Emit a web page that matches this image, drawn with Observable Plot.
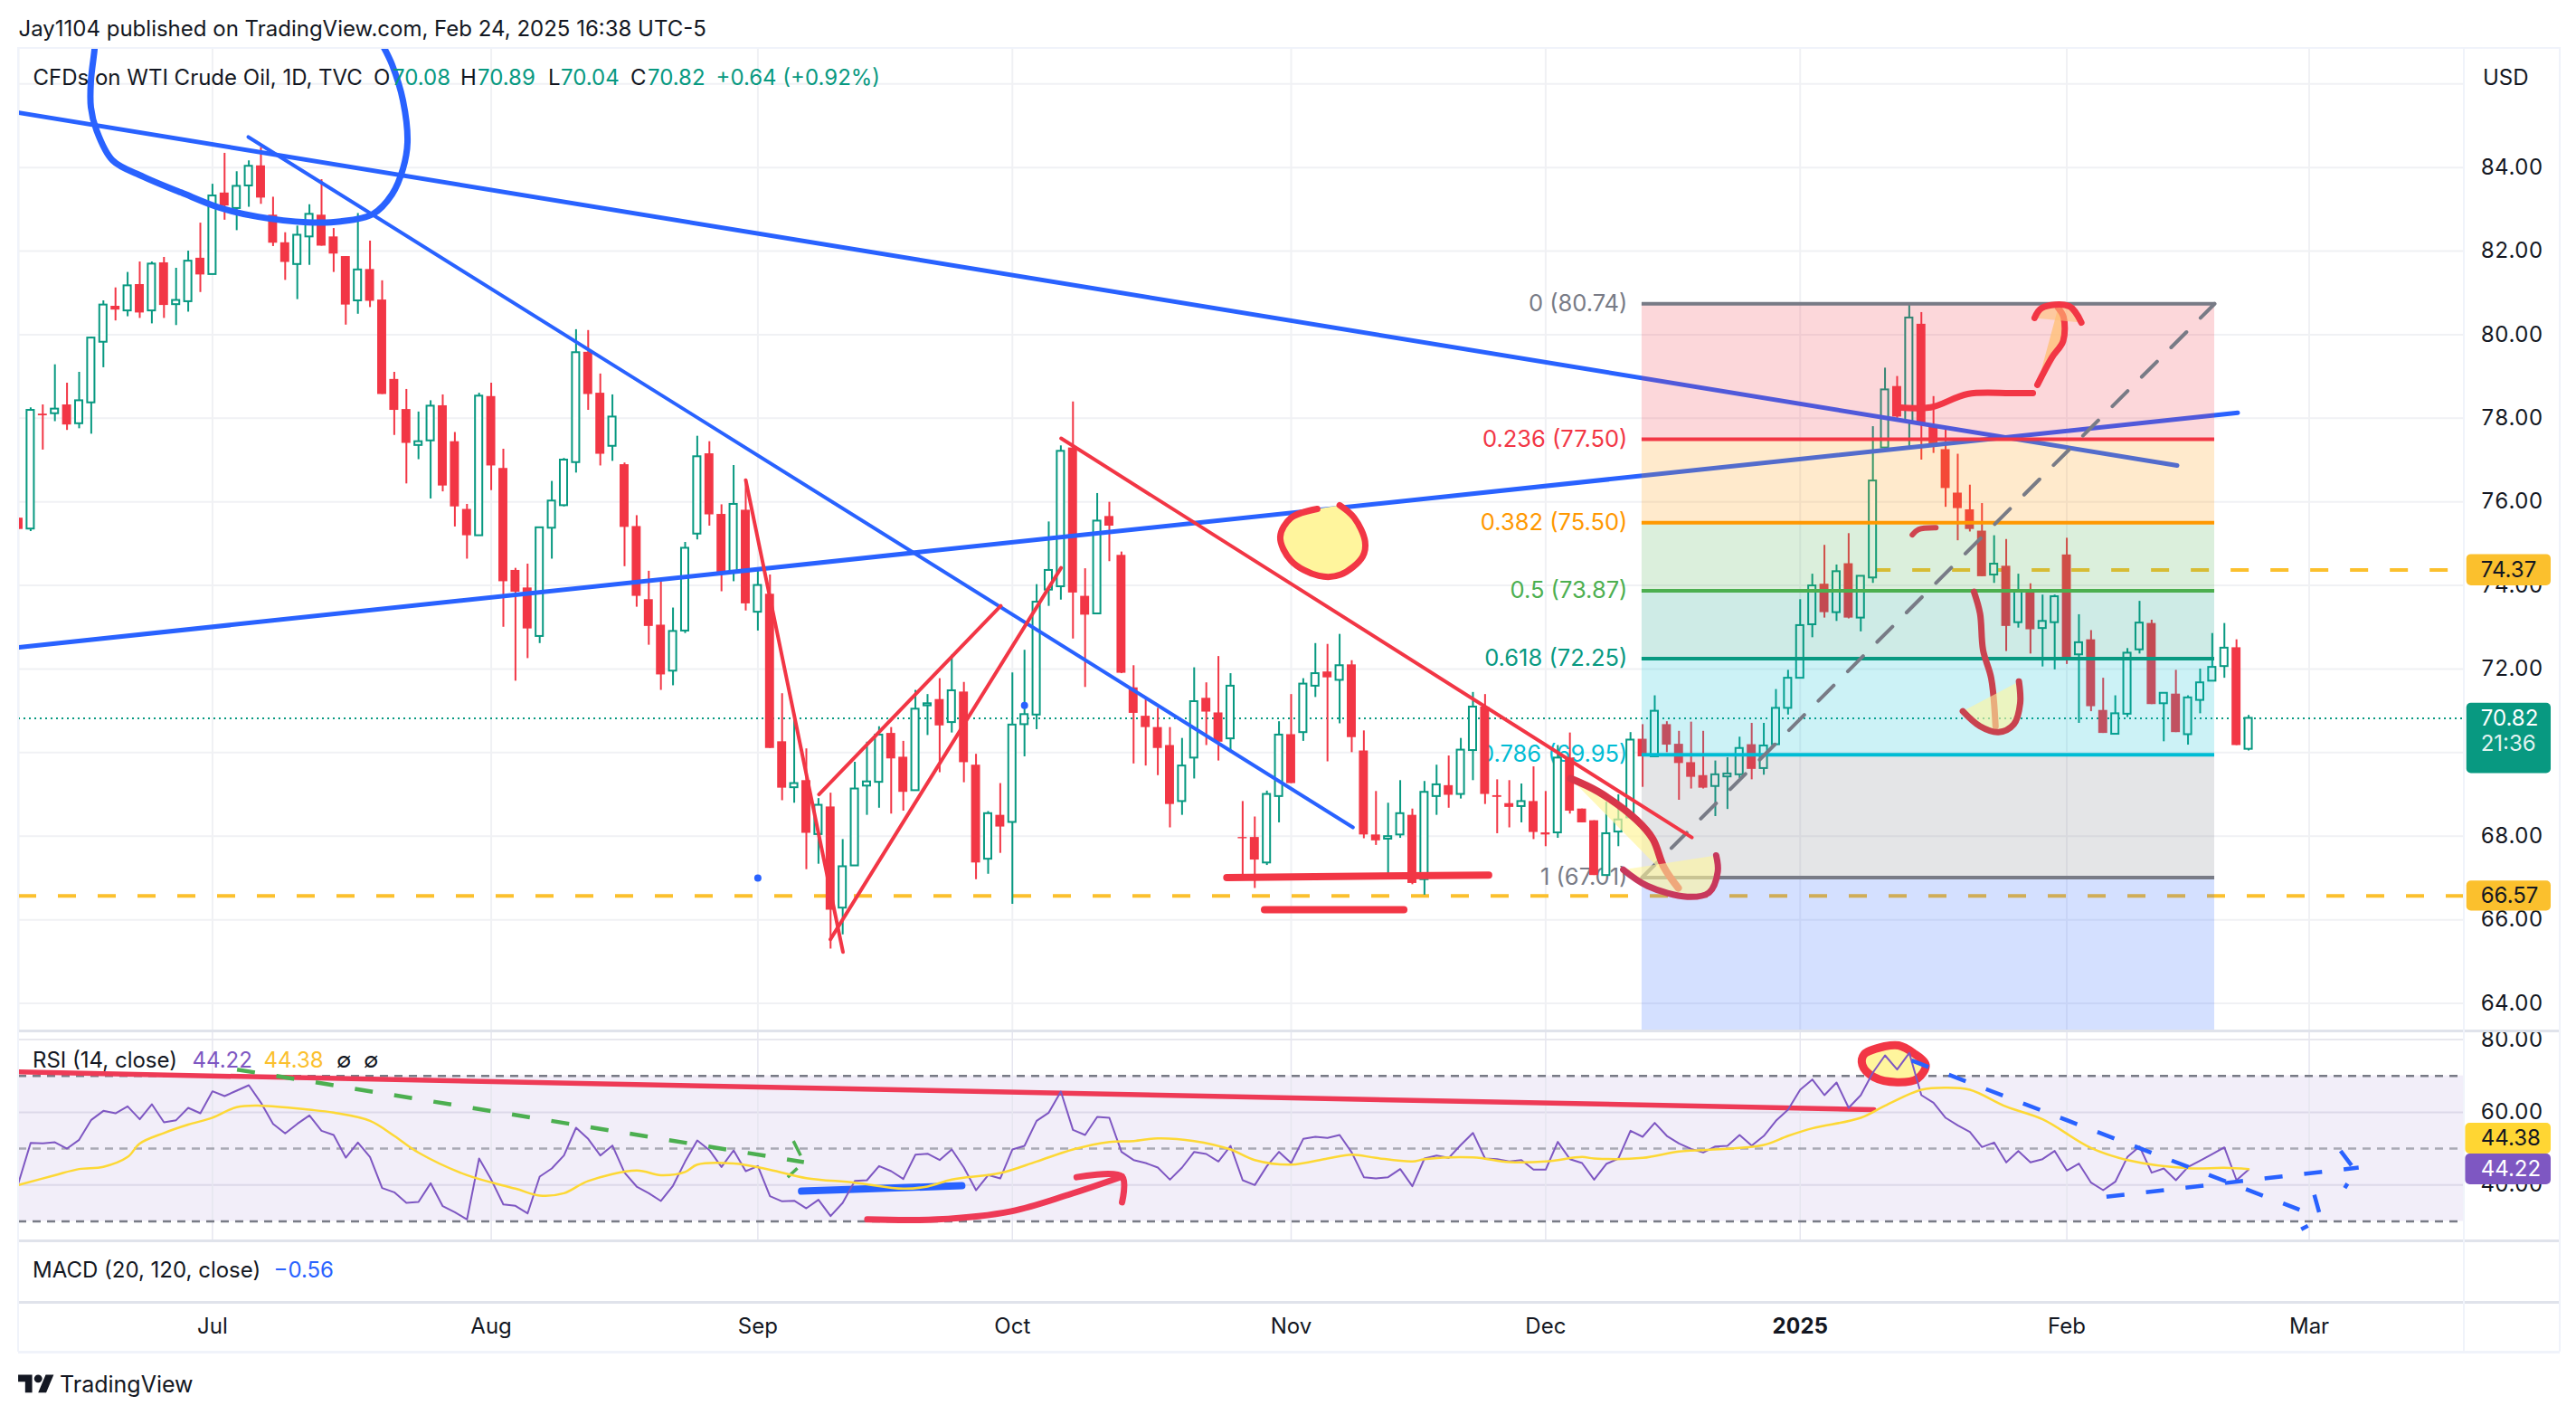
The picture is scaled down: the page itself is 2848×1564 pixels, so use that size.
<!DOCTYPE html>
<html><head><meta charset="utf-8">
<script src="https://cdn.jsdelivr.net/npm/d3@7"></script>
<script src="https://cdn.jsdelivr.net/npm/@observablehq/plot@0.6"></script>
<style>
html,body{margin:0;padding:0;background:#fff}
#root{position:relative;width:2848px;height:1564px;overflow:hidden;font-family:Inter,sans-serif;color:#131722}
#root svg{position:absolute;left:0;overflow:visible}
.t{position:absolute;white-space:pre;line-height:1;transform:translateY(-50%)}
.h{position:absolute;background:#e0e3eb}
</style></head><body><div id="root"></div>
<script>
// ---------- chart data ----------
const candleDirection = ["rgrgrgggrg","rgrggrgrgg","rrrggrrrgr","rrrggrrrgr","rrrggggrrg","rrrrgggrrg","rgrrgrgrgg","ggrrggrgrr","grgggggrrg","rrrrrrggrr","grrggrggrg","rrrggrggrg","grrrgrrgrr","rgggrgrrrr","gggrgggggr","grgggrgrrr","rrrgrgrggr","grrgggrgrg","gggrg"].join("");
const bodyTop = [
75.61,78.19,78.10,78.22,78.32,78.42,79.92,80.71,80.68,81.17,
81.20,81.69,81.72,80.82,81.76,81.83,83.32,83.39,83.55,84.03,
84.04,82.86,82.20,82.38,82.88,82.86,82.34,81.87,81.55,81.56,
80.83,78.93,78.21,77.44,78.29,78.30,77.44,75.82,78.53,78.52,
76.80,74.36,73.94,75.38,76.02,77.00,79.57,79.58,78.60,78.03,
76.89,75.41,73.66,73.05,72.90,74.89,77.08,77.15,75.70,75.94,
75.80,74.00,73.79,70.26,69.26,69.33,68.74,68.70,67.27,69.13,
69.30,70.42,70.46,69.89,71.04,71.17,71.27,71.48,71.45,69.70,
68.54,68.50,70.66,70.91,73.60,74.36,77.21,77.29,73.74,75.54,
75.65,74.72,71.55,70.87,70.60,70.17,69.68,71.22,71.30,70.95,
71.59,67.97,67.97,69.00,70.42,70.43,71.64,71.89,71.93,72.08,
72.10,70.04,68.03,67.99,68.54,68.50,69.05,69.23,69.21,70.06,
71.09,71.09,68.97,68.78,68.83,68.83,68.08,69.87,69.87,68.65,
68.37,68.06,68.39,70.30,70.32,70.99,70.67,70.20,69.76,69.45,
69.47,69.49,70.10,70.19,70.16,71.06,71.78,73.04,73.99,74.03,
74.33,74.52,74.22,76.50,78.68,78.76,80.40,80.25,77.83,77.25,
76.21,75.81,75.30,74.51,74.46,73.86,73.90,73.14,73.73,74.73,
72.63,72.70,71.01,70.93,72.38,73.10,73.09,71.42,71.40,71.31,
71.67,72.04,72.50,72.51,70.82];
const bodyBottom = [
75.34,75.35,78.06,78.11,77.84,77.87,78.37,79.82,80.59,80.57,
80.52,80.57,80.70,80.72,80.79,81.43,81.44,83.08,83.02,83.56,
83.27,82.19,81.73,81.68,82.34,82.12,81.93,80.71,80.81,80.80,
78.57,78.19,77.40,77.35,77.46,76.38,75.88,75.19,75.19,76.86,
74.09,73.84,72.96,72.78,75.37,75.91,76.94,78.57,77.14,77.33,
75.39,73.74,73.02,71.86,71.95,72.91,75.23,75.69,74.28,74.34,
73.56,73.36,70.10,69.15,69.16,68.07,68.04,66.23,66.28,67.29,
69.20,69.29,69.85,69.05,69.09,71.12,70.64,70.72,69.76,67.36,
67.45,68.22,68.33,70.67,70.90,73.89,73.97,73.82,73.29,73.32,
75.42,71.90,70.94,70.60,70.10,68.76,68.83,69.87,70.97,70.25,
70.33,67.94,67.43,67.36,68.95,69.26,70.48,71.59,71.79,71.73,
70.36,68.03,67.89,67.93,68.03,66.87,66.96,68.95,68.98,69.00,
70.05,69.00,68.93,68.69,68.71,68.09,68.03,68.08,68.60,68.32,
67.06,67.06,68.10,68.44,69.90,69.90,70.18,69.74,69.41,69.15,
69.19,69.42,69.47,69.60,69.62,70.19,71.06,71.78,73.06,73.35,
73.35,73.22,73.22,74.18,77.29,78.03,77.91,77.83,77.33,76.32,
75.84,75.34,74.21,74.25,73.02,73.11,72.94,72.97,73.11,72.23,
72.34,71.10,70.46,70.44,70.92,72.46,71.15,71.17,70.48,70.43,
71.25,71.71,72.06,70.17,70.08];
const wickHigh = [
75.61,78.25,78.32,79.28,78.84,79.10,79.94,80.81,81.12,81.49,
81.74,81.74,81.85,81.59,82.00,82.67,83.60,84.34,83.90,84.16,
84.48,83.29,82.44,82.60,83.11,83.71,82.54,81.87,82.90,82.24,
81.29,79.10,78.69,78.15,78.42,78.56,77.66,75.94,78.60,78.84,
77.26,74.41,74.51,75.38,76.49,77.04,80.12,80.10,79.06,78.56,
76.93,75.67,74.34,74.10,73.46,75.03,77.57,77.44,75.93,76.87,
76.54,74.37,74.25,71.41,70.80,70.09,68.90,69.03,67.92,69.77,
70.25,70.62,70.60,70.27,71.49,71.39,71.77,72.33,71.68,69.96,
68.59,69.26,71.91,72.45,74.02,75.52,77.34,78.39,74.40,76.20,
75.99,74.80,72.08,71.28,71.06,70.60,70.34,72.03,71.67,72.30,
71.89,68.83,68.46,69.08,70.74,71.39,71.77,72.61,72.59,72.83,
72.20,70.52,69.07,68.79,69.33,68.65,69.31,69.70,69.92,70.34,
71.44,71.39,69.35,69.33,69.25,69.66,69.07,70.17,70.47,68.65,
68.37,68.81,68.99,70.48,70.67,71.36,70.74,70.51,70.73,70.51,
69.80,69.88,70.37,70.70,70.70,71.51,71.97,73.66,74.27,74.96,
74.49,75.24,74.22,77.80,79.20,79.00,80.71,80.53,78.52,77.80,
77.14,76.40,75.96,75.19,75.10,74.27,74.04,73.77,73.77,75.13,
73.30,72.92,71.78,71.36,72.49,73.62,73.17,71.42,71.97,71.36,
72.00,72.85,73.09,72.70,70.89];
const wickLow = [
75.34,75.29,77.24,77.92,77.71,77.75,77.62,79.21,80.33,80.43,
80.39,80.26,80.39,80.22,80.54,81.01,81.44,82.74,82.49,83.05,
83.12,82.11,81.30,80.84,81.66,82.12,81.49,80.23,80.49,80.65,
78.57,77.59,76.43,77.01,76.07,76.24,75.40,74.63,75.19,76.27,
73.00,71.71,72.25,72.61,74.63,75.88,76.69,78.19,76.86,76.97,
74.45,73.48,72.57,71.49,71.60,72.85,75.09,75.42,73.85,74.09,
73.39,72.91,70.10,68.85,68.79,67.20,67.33,65.30,65.64,67.29,
68.50,68.67,68.53,68.60,69.09,70.41,69.52,70.47,69.28,66.96,
67.09,67.59,66.37,69.90,70.55,73.50,73.65,72.72,71.56,73.32,
74.57,71.89,69.73,69.68,69.45,68.20,68.50,69.37,70.17,69.80,
70.00,67.07,66.75,67.30,68.32,69.26,70.27,71.32,69.78,70.69,
70.00,67.94,67.78,66.96,67.95,66.84,66.59,68.50,68.67,68.89,
69.33,68.76,68.06,68.20,68.32,67.92,67.75,67.95,68.53,68.32,
67.06,67.06,67.75,68.44,69.17,69.90,70.00,68.86,69.13,69.13,
68.47,68.64,69.38,69.35,69.46,70.19,70.90,71.78,72.75,73.22,
73.14,73.20,72.89,74.05,77.22,77.97,77.27,77.00,77.16,75.87,
75.07,75.28,74.21,74.05,72.42,72.98,72.36,72.05,71.98,72.11,
70.70,70.98,70.46,70.44,70.84,72.36,71.15,70.26,70.48,70.18,
70.93,71.71,71.78,70.17,70.04];
const rsiValues = [
40.65,51.6,51.43,51.76,50.02,52.43,57.9,60.39,59.72,61.63,58.07,62.21,57.24,57.82,61.22,59.72,65.78,64.45,65.94,67.44,
62.63,56.82,54.17,56.82,59.14,54.92,53.75,47.53,51.68,47.7,
39.16,38.0,35.1,35.35,40.49,34.19,32.53,30.54,47.29,41.48,
34.68,34.27,32.19,42.31,44.55,48.12,55.74,52.68,48.12,50.85,
43.39,39.57,37.75,35.6,39.82,46.46,52.26,49.61,44.96,49.53,
43.8,45.21,36.92,35.51,35.68,33.6,35.93,31.45,35.1,41.15,
41.32,45.21,43.8,41.65,48.36,48.61,46.87,49.77,44.8,38.58,
42.73,41.81,49.77,50.77,57.65,59.89,65.69,55.16,53.75,58.73,
58.48,49.11,46.87,46.04,44.8,41.48,44.8,49.11,48.53,46.46,
50.77,41.32,39.99,45.21,49.11,46.04,52.68,53.26,52.93,53.75,
48.94,42.15,41.81,42.15,44.38,39.66,47.29,48.12,47.45,51.02,
54.33,47.29,47.12,46.46,46.87,44.22,44.22,51.85,47.12,46.04,
41.48,45.79,47.29,54.92,53.26,57.07,53.5,51.43,49.94,48.94,
50.6,50.77,53.75,50.85,53.5,57.65,60.72,66.19,69.01,64.7,
68.18,61.22,64.7,70.92,75.64,71.75,76.31,64.7,62.63,58.48,
56.41,54.58,50.44,51.68,46.21,49.36,46.21,47.12,49.36,43.97,
45.88,40.65,38.58,40.9,47.7,50.6,43.39,44.55,41.32,44.96,
46.71,48.53,50.35,41.32,44.22];
const rsiMaBars = [0,3,5,7,9,10,12,14,16,18,20,24,26,29,31,33,37,41,43,45,47,51,53,55,56,59,62,65,69,73,75,77,81,84,87,90,92,94,97,100,102,105,108,110,112,115,116,120,123,126,129,130,134,137,141,144,146,148,152,154,157,159,161,164,167,171,174,179,182,184];
const rsiMaValues = [40.0,42.7,44.4,45.0,47.7,51.4,54.3,56.6,58.5,61.4,61.8,60.7,59.9,57.65,53.5,48.9,42.7,39.0,37.1,37.75,41.1,44.0,42.7,43.6,45.6,45.9,44.2,41.9,40.65,39.0,39.6,41.5,43.3,46.46,49.77,51.85,52.1,52.84,52.1,49.77,46.87,45.6,47.3,48.36,47.45,46.46,47.1,47.6,46.3,46.46,47.7,47.29,47.45,49.2,49.94,51.0,53.5,55.58,58.48,61.8,66.19,66.77,66.19,61.55,58.07,50.19,46.87,44.63,44.72,44.38];

const priceTicks = [64,66,68,70,72,74,76,78,80,82,84,86];
const priceLabels = [64,66,68,70,72,74,76,78,80,82,84];
const rsiTicks = [40,60,80];
const monthBars = [16,39,61,82,105,126,147,169,189];
const monthNames = ["Jul","Aug","Sep","Oct","Nov","Dec","2025","Feb","Mar"];
const fibLevels = [80.74,77.50,75.50,73.87,72.25,69.95,67.01,63.34];
const fibRatios = ["0","0.236","0.382","0.5","0.618","0.786","1"];
const fibColors = ["#787b86","#f23645","#ff9800","#4caf50","#089981","#00bcd4","#787b86"];
const fibBandColors = ["#f23645","#ff9800","#4caf50","#089981","#00bcd4","#787b86","#2962ff"];
const fibStart = 133.95, fibEnd = 181.2;

// drawings as [bar index, price] pairs
const blueLong = [[0.04,85.31],[178.1,76.87]];
const blueRise = [[0.04,72.52],[183.1,78.13]];
const blueSteep = [[18.96,84.73],[110.1,68.21]];
const blueCircle = [[6.27,86.91],[6.27,86.83],[5.97,86.07],[5.97,85.44],[6.42,84.9],[7.76,84.17],[10.3,83.78],[13.43,83.4],[16.57,83.04],[19.78,82.82],[23.81,82.69],[26.57,82.71],[29.25,82.89],[30.82,83.36],[31.72,83.97],[32.09,84.6],[31.72,85.6],[30.82,86.46],[30.07,86.91]];
const redStraight = [
 [[60,76.52],[68.02,65.23]],
 [[66.98,65.53],[86.02,74.42]],
 [[66.04,69],[81.04,73.51]],
 [[86.02,77.52],[138.06,67.97]]];
const redFloors = [[[99.69,67.01],[121.3,67.07]],[[102.8,66.24],[114.3,66.24]]];
const blobMiddle = [[107.16,75.83],[105,75.62],[104.1,75.16],[105,74.59],[107.28,74.23],[109.1,74.26],[110.9,74.69],[111.1,75.05],[110.2,75.62],[109,75.92]];
const slideDown = [[128.06,69.38],[130.37,69.06],[133.5,68.39],[134.85,67.93],[135.75,67.26],[136.94,66.76]];
const slideCup = [[132.4,67.2],[134.4,66.81],[137.69,66.55],[139.48,66.65],[140.2,67.15],[140.07,67.54]];
const topRun = [[155.07,78.26],[157.76,78.26],[160.82,78.58],[164.4,78.6],[166.2,78.6]];
const topHook = [[166.57,78.8],[167.76,79.45],[168.7,79.85],[168.73,80.42],[168.28,80.64]];
const topArc = [[166.34,80.4],[166.94,80.64],[169.2,80.68],[170.2,80.29]];
const smallTick = [[156.25,75.21],[156.76,75.34],[158.2,75.38]];
const midDrop = [[161.34,73.85],[161.84,73.33],[162.09,72.45],[162.76,71.78],[163.12,70.63]];
const midCup = [[160.42,70.99],[161.84,70.63],[163.36,70.49],[164.63,70.68],[165.15,71.18],[165.05,71.7]];
const blueDots = [[61,67.0],[83,71.13]];
// RSI drawings as [bar index, RSI] pairs
const rsiRed = [[0,71.08],[153.08,60.72]];
const rsiGreen = [[18.03,71.75],[64.8,46.29]];
const rsiGreenKink = [[63.93,52.1],[64.8,46.3],[63.46,42.15]];
const rsiBlue = [[64.6,38.33],[77.83,39.82]];
const rsiArrow = [[70.03,30.54],[75.8,30.54],[81.9,32.77],[86.64,37.34],[91.05,42.31]];
const rsiArrowHead = [[87.3,42.15],[91.05,42.31],[91.05,35.26]];
const rsiRing = [[153.97,78.13],[152.27,75.9],[152.13,73],[153.08,69.67],[155,68.27],[156.68,69.26],[157.36,73],[156.34,76.3],[155.12,78.38],[153.97,78.13]];
const rsiDashes = [
 [[156.2,74.24],[188.2,33.2]],
 [[172.27,36.76],[193.08,44.8]],
 [[191.59,49.36],[192.81,43.97],[191.93,39.16]],
 [[189.42,37.33],[189.97,30.7],[188.34,27.8]]];

// ---------- build ----------
const root = document.getElementById("root");
const GREEN="#089981", RED="#f23645", BLUE="#2962ff", GOLD="#fbc02d", GRID="#f0f1f4";
const xMax = 201.72;
const bars = bodyTop.map((t,i)=>({i,top:t,bottom:bodyBottom[i],high:wickHigh[i],low:wickLow[i],up:candleDirection[i]==="g"}));
const ups = bars.filter(d=>d.up), downs = bars.filter(d=>!d.up);
const px = d=>d[0], py = d=>d[1];
const path = (pts,o)=>Plot.line(pts,{x:px,y:py,clip:true,strokeLinecap:"round",strokeLinejoin:"round",...o});
const smooth = "catmull-rom";
const common = {width:2848,marginLeft:20,marginRight:125,style:{background:"transparent",fontFamily:"Inter, sans-serif",overflow:"visible"},color:{type:"identity"}};
const tag = (y1,y2,fill)=>Plot.rect([0],{x1:202.0,x2:208.96,y1,y2,fill,rx:5});

const fibBands = fibBandColors.map((c,i)=>({y1:fibLevels[i],y2:fibLevels[i+1],c}));
const fibLines = fibRatios.map((r,i)=>({r,v:fibLevels[i],c:fibColors[i]}));

const main = Plot.plot({...common,height:1139,marginTop:53,marginBottom:0,
  x:{domain:[0,xMax],axis:null},
  y:{domain:[63.34,86.85],axis:null},
  marks:[
    Plot.ruleY(priceTicks,{stroke:GRID,strokeWidth:2}),
    Plot.ruleX(monthBars,{stroke:GRID,strokeWidth:2}),
    Plot.ruleX([0],{stroke:GRID,strokeWidth:2}),
    Plot.axisY(priceLabels,{anchor:"right",tickSize:0,tickPadding:19,fontSize:24,fill:"#131722",tickFormat:d=>d.toFixed(2),label:null}),
    Plot.ruleY([66.57],{stroke:GOLD,strokeWidth:4,strokeDasharray:"20,24"}),
    Plot.ruleY([74.37],{x1:153,x2:xMax,stroke:GOLD,strokeWidth:4,strokeDasharray:"20,24"}),
    Plot.ruleY([70.82],{stroke:GREEN,strokeWidth:2,strokeDasharray:"2,4"}),
    Plot.text(fibLines,{x:fibStart,y:"v",text:d=>`${d.r} (${d.v.toFixed(2)})`,fill:"c",textAnchor:"end",dx:-16,fontSize:25.5}),
    Plot.ruleX(downs,{x:"i",y1:"low",y2:"high",stroke:RED,strokeWidth:2,clip:true}),
    Plot.ruleX(ups,{x:"i",y1:"low",y2:"high",stroke:GREEN,strokeWidth:2,clip:true}),
    Plot.rect(downs,{x1:d=>d.i-0.37,x2:d=>d.i+0.37,y1:"bottom",y2:"top",fill:RED,clip:true}),
    Plot.rect(ups,{x1:d=>d.i-0.3,x2:d=>d.i+0.3,y1:"bottom",y2:"top",fill:"#fff",stroke:GREEN,strokeWidth:2,clip:true}),
    path(blueLong,{stroke:BLUE,strokeWidth:5}),
    path(blueRise,{stroke:BLUE,strokeWidth:5}),
    path(blueSteep,{stroke:BLUE,strokeWidth:4}),
    path(blueCircle,{stroke:BLUE,strokeWidth:7,curve:smooth}),
    Plot.rect(fibBands,{x1:fibStart,x2:fibEnd,y1:"y1",y2:"y2",fill:"c",fillOpacity:0.2}),
    Plot.ruleY(fibLines,{y:"v",x1:fibStart,x2:fibEnd,stroke:"c",strokeWidth:4}),
    Plot.line([[fibStart,67.01],[fibEnd,80.74]],{x:px,y:py,stroke:"#787b86",strokeWidth:4,strokeDasharray:"24,22"}),
    ...redStraight.map(p=>path(p,{stroke:RED,strokeWidth:4})),
    ...redFloors.map(p=>path(p,{stroke:RED,strokeWidth:8})),
    path(blobMiddle,{stroke:RED,strokeWidth:7,fill:"#fff59d",curve:smooth}),
    path(slideDown,{stroke:"#d8364a",strokeWidth:8,fill:"#fff59d",fillOpacity:0.7,curve:smooth}),
    path(slideCup,{stroke:"#c8385c",strokeWidth:7,fill:"#fff59d",fillOpacity:0.6,curve:smooth}),
    path(topRun,{stroke:RED,strokeWidth:7,curve:smooth}),
    path(topHook,{stroke:RED,strokeWidth:7,fill:"#ffc078",fillOpacity:0.8,curve:smooth}),
    path(topArc,{stroke:RED,strokeWidth:7,fill:"#ffc078",fillOpacity:0.6,curve:smooth}),
    path(smallTick,{stroke:"#d0444f",strokeWidth:6,curve:smooth}),
    path(midDrop,{stroke:"#c9424f",strokeWidth:7,curve:smooth}),
    path(midCup,{stroke:"#c9424f",strokeWidth:7,fill:"#fff59d",fillOpacity:0.6,curve:smooth}),
    Plot.dot(blueDots,{x:px,y:py,r:4,fill:BLUE}),
    tag(73.99,74.74,GOLD),
    tag(69.5,70.82+0.36,GREEN),
    tag(66.21,66.93,GOLD),
    Plot.text(["74.37"],{x:203.6,y:74.37,text:d=>d,fill:"#131722",fontSize:24,textAnchor:"start",dx:-6}),
    Plot.text(["66.57"],{x:203.6,y:66.57,text:d=>d,fill:"#131722",fontSize:24,textAnchor:"start",dx:-6}),
    Plot.text(["70.82"],{x:203.6,y:70.82,text:d=>d,fill:"#fff",fontSize:24,textAnchor:"start",dx:-6}),
    Plot.text(["21:36"],{x:203.6,y:70.82,text:d=>d,fill:"#fff",fontSize:24,textAnchor:"start",dx:-6,dy:28,fillOpacity:0.9})
  ]});
main.style.top="0px"; root.appendChild(main);

const rsi = rsiValues.map((v,i)=>[i,v]);
const rsiMa = rsiMaBars.map((b,i)=>[b,rsiMaValues[i]]);
const lower = Plot.plot({...common,height:425,marginTop:0,marginBottom:125,
  x:{domain:[0,xMax],axis:null},
  y:{domain:[7.74,82.36],axis:null},
  marks:[
    Plot.ruleY([40,60,80],{stroke:"#e8e8ee",strokeWidth:2}),
    Plot.rect([0],{x1:0,x2:xMax,y1:30,y2:70,fill:"#7e57c2",fillOpacity:0.1}),
    Plot.ruleX(monthBars,{y1:24.9,y2:82.36,stroke:"#e6e6ef",strokeWidth:1.5}),
    Plot.ruleY([70,30],{stroke:"#787b86",strokeWidth:2.5,strokeDasharray:"9,7"}),
    Plot.ruleY([50],{stroke:"#787b86",strokeOpacity:0.6,strokeWidth:2.5,strokeDasharray:"9,7"}),
    Plot.axisY(rsiTicks,{anchor:"right",tickSize:0,tickPadding:19,fontSize:24,fill:"#131722",tickFormat:d=>d.toFixed(2),label:null}),
    Plot.axisX(monthBars.filter((b,i)=>monthNames[i]!=="2025"),{anchor:"bottom",tickSize:0,tickPadding:17,fontSize:24,fill:"#131722",tickFormat:d=>monthNames[monthBars.indexOf(d)],label:null}),
    Plot.axisX(monthBars.filter((b,i)=>monthNames[i]==="2025"),{anchor:"bottom",tickSize:0,tickPadding:17,fontSize:24,fontWeight:700,fill:"#131722",tickFormat:d=>monthNames[monthBars.indexOf(d)],label:null}),
    path(rsiRing,{stroke:"#f23645",strokeWidth:9,fill:"#fff59d",curve:smooth}),
    path(rsiRed,{stroke:"#ee3a56",strokeWidth:5.5}),
    path(rsiGreen,{stroke:"#4caf50",strokeWidth:4.5,strokeDasharray:"20,24",strokeLinecap:"butt"}),
    path(rsiGreenKink,{stroke:"#4caf50",strokeWidth:3.5,strokeDasharray:"18,18",strokeLinecap:"butt"}),
    path(rsiBlue,{stroke:BLUE,strokeWidth:8}),
    path(rsiArrow,{stroke:"#ee3a56",strokeWidth:7,curve:smooth}),
    path(rsiArrowHead,{stroke:"#ee3a56",strokeWidth:7,curve:smooth}),
    path(rsi,{stroke:"#7e57c2",strokeWidth:2}),
    path(rsiMa,{stroke:"#fdd835",strokeWidth:2.5,curve:smooth}),
    ...rsiDashes.map(p=>path(p,{stroke:BLUE,strokeWidth:4.5,strokeDasharray:"20,24",strokeLinecap:"butt",clip:false})),
    Plot.rect([0],{x1:201.9,x2:208.96,y1:48.53,y2:56.99,fill:"#ffd633",rx:5}),
    Plot.rect([0],{x1:201.9,x2:208.96,y1:40.07,y2:48.53,fill:"#7e57c2",rx:5}),
    Plot.text(["44.38"],{x:203.6,y:52.76,text:d=>d,fill:"#131722",fontSize:24,textAnchor:"start",dx:-6}),
    Plot.text(["44.22"],{x:203.6,y:44.3,text:d=>d,fill:"#fff",fontSize:24,textAnchor:"start",dx:-6})
  ]});
lower.style.top="1139px"; root.appendChild(lower);

// ---------- text and frame ----------
function line(l,t,w,h,c){const d=document.createElement("div");d.className="h";d.style.cssText=`left:${l}px;top:${t}px;width:${w}px;height:${h}px;background:${c||"#e0e3eb"}`;root.appendChild(d);}
line(20,52,2810,2,"#f0f3fa");
line(20,1138,2810,3);
line(20,1369.5,2810,3);
line(20,1438,2810,3);
line(20,1493,2810,3,"#f0f3fa");
line(19,52,2,1442,"#f0f3fa");
line(2723,52,2,1442,"#f0f3fa");
line(2829,52,2,1442,"#f0f3fa");
function label(x,y,s,c,o={}){const d=document.createElement("div");d.className="t";d.textContent=s;d.style.left=x+"px";d.style.top=y+"px";d.style.color=c||"#131722";d.style.fontSize=(o.size||24)+"px";if(o.weight)d.style.fontWeight=o.weight;root.appendChild(d);}
label(20.5,31.5,"Jay1104 published on TradingView.com, Feb 24, 2025 16:38 UTC-5","#131722");
label(36.5,86,"CFDs on WTI Crude Oil, 1D, TVC");
label(413,86,"O"); label(434,86,"70.08",GREEN);
label(509,86,"H"); label(528,86,"70.89",GREEN);
label(606,86,"L"); label(620,86,"70.04",GREEN);
label(697,86,"C"); label(716,86,"70.82",GREEN);
label(791.5,86,"+0.64 (+0.92%)",GREEN);
label(2745,86,"USD","#131722");
label(36,1172,"RSI (14, close)");
label(212.5,1172,"44.22","#7e57c2"); label(291.5,1172,"44.38","#fbc02d");
label(372,1172,"∅"); label(402,1172,"∅");
label(36,1404,"MACD (20, 120, close)");
label(302.5,1404,"−0.56",BLUE);
label(66,1530,"TradingView","#131722",{size:25});
const logo=document.createElementNS("http://www.w3.org/2000/svg","svg");
logo.setAttribute("viewBox","0 0 36 28");logo.setAttribute("width","40");logo.setAttribute("height","31");
logo.style.left="20px";logo.style.top="1515px";
logo.innerHTML='<path d="M14 22H7V11H0V4h14v18zM28 22h-8l7.5-18h8L28 22z" fill="#131722"/><circle cx="20" cy="8" r="4" fill="#131722"/>';
root.appendChild(logo);
</script></body></html>
